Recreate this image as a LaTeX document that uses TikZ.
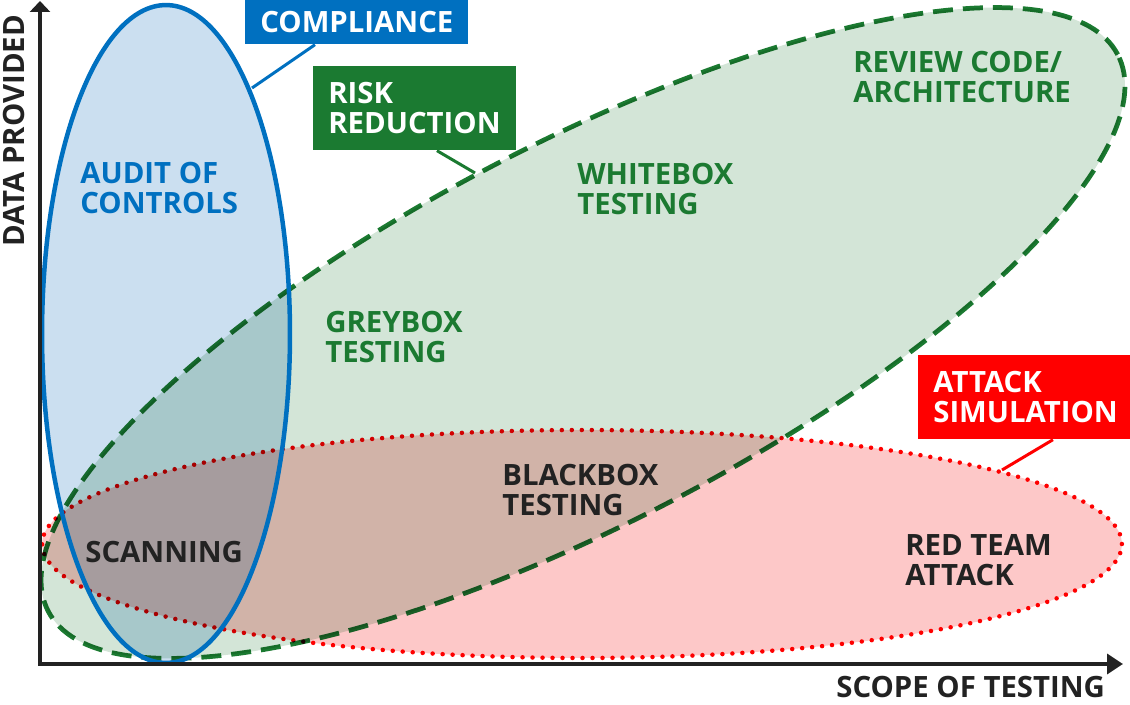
\documentclass[tikz,border=0pt]{standalone}
\usepackage{fontspec}
\setmainfont{Open Sans}
\usetikzlibrary{arrows.meta,positioning}
\definecolor{cmpblue}{HTML}{0070C0}
\definecolor{riskgreen}{HTML}{1B7A31}
\definecolor{atkred}{HTML}{FF0000}
\definecolor{inkdark}{HTML}{222222}
\definecolor{bluefill}{HTML}{CBDFF0}
\definecolor{greenfill}{HTML}{D3E5D7}
\definecolor{redfill}{HTML}{FDC8C8}
\newcommand{\lblfont}{\fontsize{16.7}{17.1}\selectfont\bfseries}

\begin{document}
\begin{tikzpicture}[
  x=0.02cm, y=-0.02cm,
  zonetext/.style={anchor=base west, inner sep=0pt, align=left, font=\lblfont},
  tag/.style={anchor=north west, inner xsep=0.3cm, inner ysep=0pt, align=left, text=white, font=\lblfont},
  lead/.style={line width=0.06cm},
  axis/.style={line width=0.07cm, inkdark},
]
  \useasboundingbox (0,0) rectangle (1130,705);

  \begin{scope}[blend group=multiply]
    \filldraw[fill=greenfill, draw=riskgreen, line width=0.095cm, dash pattern=on 0.4cm off 0.2cm,
      rotate around={27.5:(583,333)}] (583,333) ellipse [x radius=12.06cm, y radius=3.8cm];
    \filldraw[fill=redfill, draw=atkred, line width=0.09cm, line cap=round, dash pattern=on 0pt off 0.2cm]
      (582,544) ellipse [x radius=10.8cm, y radius=2.28cm];
    \fill[bluefill] (166,334) ellipse [x radius=2.48cm, y radius=6.58cm];
  \end{scope}
  \draw[cmpblue, line width=0.09cm] (166,334) ellipse [x radius=2.48cm, y radius=6.58cm];

  \coordinate (ytip) at (40,1);
  \coordinate (origin) at (40,664);
  \coordinate (xtip) at (1123,664);
  \draw[axis, {Triangle[length=0.22cm, width=0.4cm]}-{Triangle[length=0.32cm, width=0.4cm]}]
    (ytip) -- (origin) -- (xtip);

  \node[zonetext, text=cmpblue] (audit) at (80,214) {AUDIT OF\\CONTROLS};
  \node[zonetext, text=riskgreen] (review) at (853,103) {REVIEW CODE/\\ARCHITECTURE};
  \node[zonetext, text=riskgreen] (whitebox) at (577,215) {WHITEBOX\\TESTING};
  \node[zonetext, text=riskgreen] (greybox) at (325,363) {GREYBOX\\TESTING};
  \node[zonetext, text=inkdark] (blackbox) at (502,516) {BLACKBOX\\TESTING};
  \node[zonetext, text=inkdark] (scanning) at (85,563) {SCANNING};
  \node[zonetext, text=inkdark] (redteam) at (905,586) {RED TEAM\\ATTACK};
  \node[zonetext, text=inkdark] (scope) at (836,698) {SCOPE OF TESTING};
  \node[zonetext, text=inkdark, rotate=90] (data) at (25,247) {DATA PROVIDED};

  \node[tag, fill=cmpblue, minimum height=0.88cm] (compliance) at (245,0) {COMPLIANCE};
  \node[tag, fill=riskgreen, minimum height=1.68cm] (risk) at (313,66) {RISK\\REDUCTION};
  \node[tag, fill=atkred, minimum height=1.68cm] (attack) at (918,355) {ATTACK\\SIMULATION};

  \coordinate (cmpedge) at (252,88);
  \coordinate (riskedge) at (475,173);
  \coordinate (atkedge) at (1002,470);
  \draw[lead, cmpblue] ([xshift=1.4cm]compliance.south west) -- (cmpedge);
  \draw[lead, riskgreen] ([xshift=2.48cm]risk.south west) -- (riskedge);
  \draw[lead, atkred] ([xshift=2.7cm]attack.south west) -- (atkedge);
\end{tikzpicture}
\end{document}
